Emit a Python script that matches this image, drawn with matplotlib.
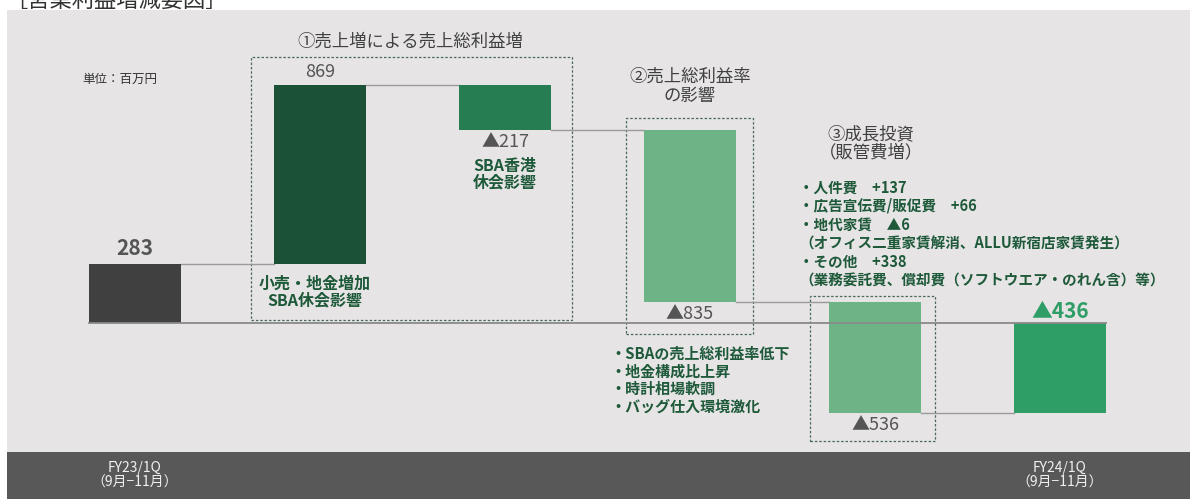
import matplotlib
matplotlib.use('Agg')
import matplotlib.pyplot as plt
from matplotlib.patches import Rectangle
import numpy as np

plt.rcParams['font.family'] = ['Noto Sans CJK JP', 'DejaVu Sans']

# data (百万円)
steps = ['FY23/1Q', '売上増', 'SBA香港休会', '売上総利益率', '成長投資', 'FY24/1Q']
start_value = 283
changes = [869, -217, -835, -536]
end_value = -436
value_labels = ['283', '869', '▲217', '▲835', '▲536', '▲436']
bar_colors = ['#404040', '#1b5236', '#277d52', '#6cb486', '#6cb486', '#2e9e66']
period_labels = ['FY23/1Q\n（9月−11月）', 'FY24/1Q\n（9月−11月）']

group_titles = ['①売上増による売上総利益増', '②売上総利益率\nの影響', '③成長投資\n（販管費増）']
note_1 = '小売・地金増加\nSBA休会影響'
note_2 = 'SBA香港\n休会影響'
note_3 = ['・SBAの売上総利益率低下', '・地金構成比上昇', '・時計相場軟調', '・バッグ仕入環境激化']
note_4 = ['・人件費　+137', '・広告宣伝費/販促費　+66', '・地代家賃　▲6',
          '（オフィス二重家賃解消、ALLU新宿店家賃発生）', '・その他　+338',
          '（業務委託費、償却費（ソフトウエア・のれん含）等）']

# waterfall levels
x = np.arange(len(steps))
bottoms = [0]
tops = [start_value]
level = start_value
for c in changes:
    new = level + c
    bottoms.append(min(level, new))
    tops.append(max(level, new))
    level = new
bottoms.append(end_value)
tops.append(0)
bottoms = np.array(bottoms)
tops = np.array(tops)
levels = np.cumsum([start_value] + changes)

fig = plt.figure(figsize=(11.9, 4.99), dpi=100)
fig.patch.set_facecolor('white')
# background panels
fig.add_artist(Rectangle((0.006, 0.095), 0.994, 0.885, transform=fig.transFigure,
                         facecolor='#e6e4e5', edgecolor='none', zorder=0))
fig.add_artist(Rectangle((0.006, 0.0), 0.994, 0.095, transform=fig.transFigure,
                         facecolor='#585858', edgecolor='none', zorder=0))
# page heading, cut at the top edge as in the original screenshot
fig.text(0.004, 1.0, '［営業利益増減要因］', fontsize=16, color='#333333', va='center', ha='left')

ax = fig.add_axes([0, 0, 1, 1])
ax.set_xlim(-0.73, 5.703)
ax.set_ylim(-852, 1563)
ax.axis('off')

w = 0.497
ax.bar(x, tops - bottoms, bottom=bottoms, width=w, color=bar_colors, zorder=3)

# baseline
ax.plot([x[0] - w / 2, x[-1] + w / 2], [0, 0], color='#8a8a8a', lw=1.3, zorder=4)
# connectors
for i, lv in enumerate(levels):
    ax.plot([x[i] + w / 2, x[i + 1] - w / 2], [lv, lv], color='#9a9a9a', lw=1.0, zorder=2)

# value labels
lab_color = '#555555'
ax.annotate(value_labels[0], (x[0], tops[0]), xytext=(0, 4), textcoords='offset points',
            ha='center', va='bottom', fontsize=15, fontweight='bold', color=lab_color)
ax.annotate(value_labels[1], (x[1], tops[1]), xytext=(0, 3), textcoords='offset points',
            ha='center', va='bottom', fontsize=13, color=lab_color)
for i in [2, 3, 4]:
    ax.annotate(value_labels[i], (x[i], bottoms[i]), xytext=(0, -2), textcoords='offset points',
                ha='center', va='top', fontsize=13, color=lab_color)
ax.annotate(value_labels[5], (x[5], tops[5]), xytext=(0, 1), textcoords='offset points',
            ha='center', va='bottom', fontsize=15, fontweight='bold', color='#2e9e66')

# dashed group boxes
box_kw = dict(fill=False, edgecolor='#4a6a58', lw=0.9, ls=(0, (2, 1.5)), zorder=1)
ax.add_patch(Rectangle((x[1] - 0.373, 15), 1.735, 1272, **box_kw))
ax.add_patch(Rectangle((x[3] - 0.346, -53), 0.687, 1045, **box_kw))
ax.add_patch(Rectangle((x[4] - 0.351, -571), 0.675, 702, **box_kw))

title_color = '#404040'
ax.text(x[1] + 0.49, 1363, group_titles[0], ha='center', va='center', fontsize=12.5, color=title_color)
ax.text(x[3], 1145, group_titles[1], ha='center', va='center', fontsize=12.5, color=title_color,
        linespacing=1.05)
ax.text(x[4] - 0.02, 870, group_titles[2], ha='center', va='center', fontsize=12.5, color=title_color,
        linespacing=1.05)

ax.text(-0.08, 1180, '単位：百万円', ha='center', va='center', fontsize=9, color='#333333')

note_color = '#1e5a3a'
ax.text(x[1] - 0.03, 228, note_1, ha='center', va='top', fontsize=11.5, fontweight='bold',
        color=note_color, linespacing=1.05)
ax.text(x[2], 800, note_2, ha='center', va='top', fontsize=11.5, fontweight='bold',
        color=note_color, linespacing=1.05)
ax.text(x[3] - 0.43, -110, '\n'.join(note_3), ha='left', va='top', fontsize=10.8, fontweight='bold',
        color=note_color, linespacing=1.12)
ax.text(x[4] - 0.41, 695, '\n'.join(note_4), ha='left', va='top', fontsize=10.5, fontweight='bold',
        color=note_color, linespacing=1.2)

for xi, lab in zip([x[0], x[-1]], period_labels):
    ax.text(xi, -736, lab, ha='center', va='center', fontsize=10, color='#f0f0f0', linespacing=1.05)

fig.savefig('out.png', dpi=100, facecolor=fig.get_facecolor())
